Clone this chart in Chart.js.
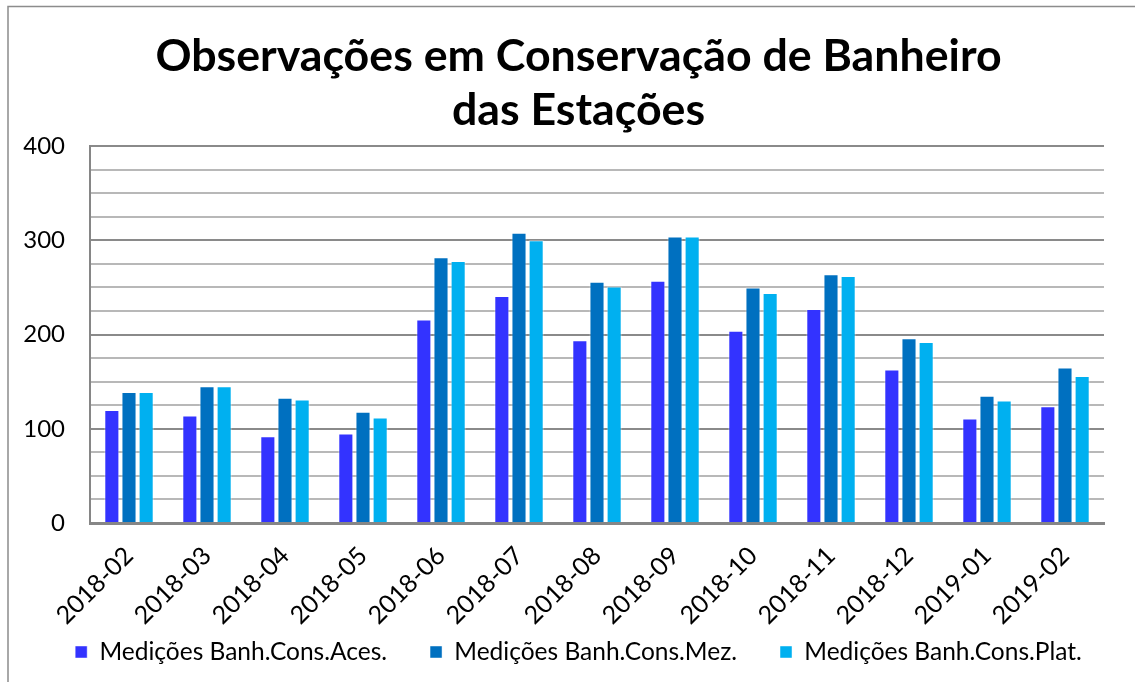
<!DOCTYPE html>
<html>
<head>
<meta charset="utf-8">
<script src="https://cdn.jsdelivr.net/npm/chart.js@4.4.0/dist/chart.umd.min.js"></script>
<style>
  html, body { margin: 0; background: #fff; }
  #container { width: 1135px; height: 682px; }
</style>
</head>
<body>
<div id="container"><canvas id="chart"></canvas></div>
<script>
const months = [
  "2018-02", "2018-03", "2018-04", "2018-05", "2018-06", "2018-07", "2018-08",
  "2018-09", "2018-10", "2018-11", "2018-12", "2019-01", "2019-02",
];
const aces = [120, 114, 92, 95, 216, 241, 194, 257, 204, 227, 163, 111, 124];
const mez = [139, 145, 133, 118, 282, 308, 256, 304, 250, 264, 196, 135, 165];
const plat = [139, 145, 131, 112, 278, 300, 251, 304, 244, 262, 192, 130, 156];
const yTicks = [0, 100, 200, 300, 400];

const colors = {
  aces: "#3333ff",
  mez: "#0070c0",
  plat: "#00b0f0",
};

// moldura cinza no topo e à esquerda
const framePlugin = {
  id: "frame",
  beforeDraw(chart) {
    const ctx = chart.ctx;
    ctx.save();
    ctx.strokeStyle = "#8c8c8c";
    ctx.lineWidth = 1.5;
    ctx.beginPath();
    ctx.moveTo(8, chart.height);
    ctx.lineTo(8, 6.5);
    ctx.lineTo(chart.width, 6.5);
    ctx.stroke();
    ctx.restore();
  },
};

const initChart = () => {
  Chart.defaults.font.family = "Lato";
  Chart.defaults.font.size = 24;
  Chart.defaults.color = "#000";

  const dataset = (label, data, color) => ({
    label,
    data,
    backgroundColor: color,
    borderColor: "rgba(255,255,255,0.45)",
    borderWidth: 1,
    categoryPercentage: 0.66,
    barPercentage: 0.88,
  });

  return new Chart(document.getElementById("chart"), {
    type: "bar",
    data: {
      labels: months,
      datasets: [
        dataset("Medições Banh.Cons.Aces.", aces, colors.aces),
        dataset("Medições Banh.Cons.Mez.", mez, colors.mez),
        dataset("Medições Banh.Cons.Plat.", plat, colors.plat),
      ],
    },
    options: {
      responsive: true,
      maintainAspectRatio: false,
      animation: false,
      devicePixelRatio: 1,
      layout: { padding: { left: 22, right: 0, bottom: 7.75 } },
      plugins: {
        title: {
          display: true,
          text: ["Observações em Conservação de Banheiro", "das Estações"],
          font: { size: 44.7, weight: "bold", lineHeight: 1.22 },
          color: "#000",
          padding: { top: 29, bottom: 8 },
        },
        legend: {
          position: "bottom",
          labels: {
            boxWidth: 12,
            boxHeight: 12,
            padding: 43,
            font: { size: 24.5 },
          },
        },
        tooltip: { enabled: false },
      },
      scales: {
        x: {
          grid: { display: false },
          border: { color: "#868686", width: 3 },
          ticks: { minRotation: 45, maxRotation: 45, padding: 10, font: { size: 25 } },
          afterFit: (scale) => {
            // rótulos inclinados ficam fora da caixa, sem recorte
            scale.height = 73.75;
            scale.paddingLeft = 0;
            scale.paddingRight = 0;
            scale._computeLabelArea = () => null;
          },
        },
        y: {
          min: 0,
          max: 400,
          ticks: {
            stepSize: 25,
            maxTicksLimit: 20,
            autoSkip: false,
            padding: 25,
            callback: (v) => (yTicks.includes(v) ? v : ""),
          },
          afterFit: (scale) => {
            scale.width = 68;
          },
          grid: {
            drawTicks: false,
            lineWidth: 2,
            color: (c) => (c.tick && c.tick.value % 100 === 0 ? "#8a8a8a" : "#b8b8b8"),
          },
          border: { color: "#868686", width: 2 },
        },
        // margem direita da área do gráfico
        yRight: {
          position: "right",
          grid: { display: false },
          border: { display: false },
          ticks: { display: false },
          afterFit: (scale) => {
            scale.width = 31;
          },
        },
      },
    },
    plugins: [framePlugin],
  });
};

initChart();
</script>
</body>
</html>
